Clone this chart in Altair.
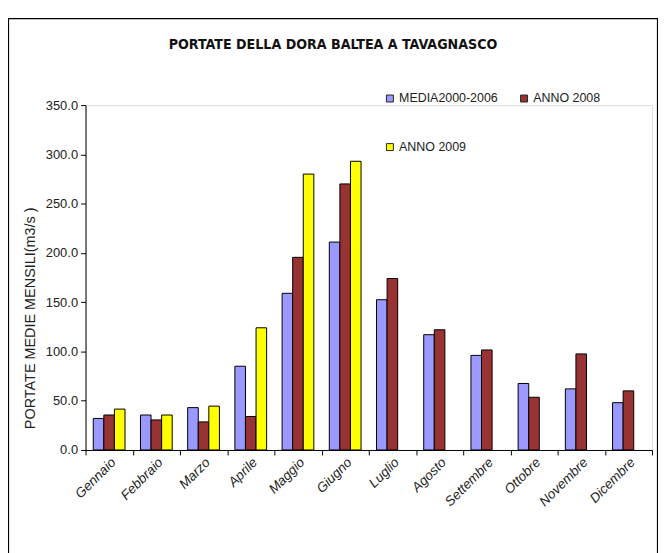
import altair as alt
import pandas as pd

months = ["Gennaio", "Febbraio", "Marzo", "Aprile", "Maggio", "Giugno",
          "Luglio", "Agosto", "Settembre", "Ottobre", "Novembre", "Dicembre"]
series = ["MEDIA2000-2006", "ANNO 2008", "ANNO 2009"]
legend_order = ["MEDIA2000-2006", "ANNO 2009", "ANNO 2008"]
media = [32.0, 35.5, 43.0, 85.0, 159.0, 211.0, 152.5, 117.0, 96.0, 67.5, 62.0, 48.0]
anno2008 = [35.5, 30.5, 28.5, 34.0, 195.5, 270.0, 174.0, 122.0, 101.5, 53.5, 97.5, 60.0]
anno2009 = [41.5, 35.5, 44.5, 124.0, 280.0, 293.0, None, None, None, None, None, None]
colors = ["#9999FF", "#993333", "#FFFF00"]
y_ticks = [0, 50, 100, 150, 200, 250, 300, 350]

rows = []
for s, vals in zip(series, [media, anno2008, anno2009]):
    for m, v in zip(months, vals):
        if v is not None:
            rows.append({"Mese": m, "Serie": s, "Portata": v})
df = pd.DataFrame(rows)

FONT = "Liberation Sans"
TITLE_FONT = "DejaVu Sans Condensed, Liberation Sans, sans-serif"

W, H = 570, 347

bars = alt.Chart(df).mark_bar(stroke="black", strokeWidth=1).encode(
    x=alt.X("Mese:N", sort=months,
            scale=alt.Scale(paddingInner=0, paddingOuter=0),
            axis=alt.Axis(title=None, labelAngle=315, labelAlign="right",
                          labelBaseline="middle", labelFont=FONT, labelFontStyle="italic",
                          labelFontSize=13.5, labelColor="#222", labelPadding=5,
                          tickBand="extent", tickSize=5, tickColor="black",
                          domainColor="black", labelOffset=4)),
    xOffset=alt.XOffset("Serie:N", sort=series,
                        scale=alt.Scale(domain=series, paddingInner=0, paddingOuter=0.73)),
    y=alt.Y("Portata:Q",
            scale=alt.Scale(domain=[0, 350], nice=False),
            axis=alt.Axis(title="PORTATE MEDIE MENSILI(m3/s )", values=y_ticks, format=".1f",
                          grid=False, labelFont=FONT, labelFontSize=13, labelColor="#222",
                          tickSize=5, tickColor="black", domainColor="black", labelPadding=3,
                          titleFont=FONT, titleFontSize=14.5, titleFontWeight="normal",
                          titleColor="#222", titlePadding=8, titleY=214)),
    color=alt.Color("Serie:N", sort=series,
                    scale=alt.Scale(domain=series, range=colors),
                    legend=alt.Legend(title=None, orient="none", legendX=300, legendY=-13,
                                      values=legend_order,
                                      columns=2, columnPadding=20, rowPadding=36,
                                      symbolType="square", symbolSize=49,
                                      symbolStrokeColor="#222", symbolStrokeWidth=1,
                                      labelFont=FONT, labelFontSize=12.5, labelColor="#222",
                                      labelOffset=3, padding=0)),
)

frame = alt.Chart(alt.Data(values=[{"k": 1}])).mark_rect(
    fill="transparent", stroke="black", strokeWidth=1.2
).encode(
    x=alt.value(-77.5), x2=alt.value(575.5), y=alt.value(-87), y2=alt.value(460)
)

chart = alt.layer(bars, frame).properties(
    width=W, height=H,
    padding={"left": 78, "top": 96, "right": 6, "bottom": 110},
    autosize=alt.AutoSizeParams(type="none"),
    title=alt.TitleParams("PORTATE DELLA DORA BALTEA  A TAVAGNASCO", font=TITLE_FONT,
                          fontSize=14.2, fontWeight="bold", color="#111",
                          anchor="middle", frame="group", dx=-36, offset=0, dy=34),
).configure_view(stroke=None).configure(background="white")

chart.save("out.html", embed_options={"renderer": "svg", "actions": False})
